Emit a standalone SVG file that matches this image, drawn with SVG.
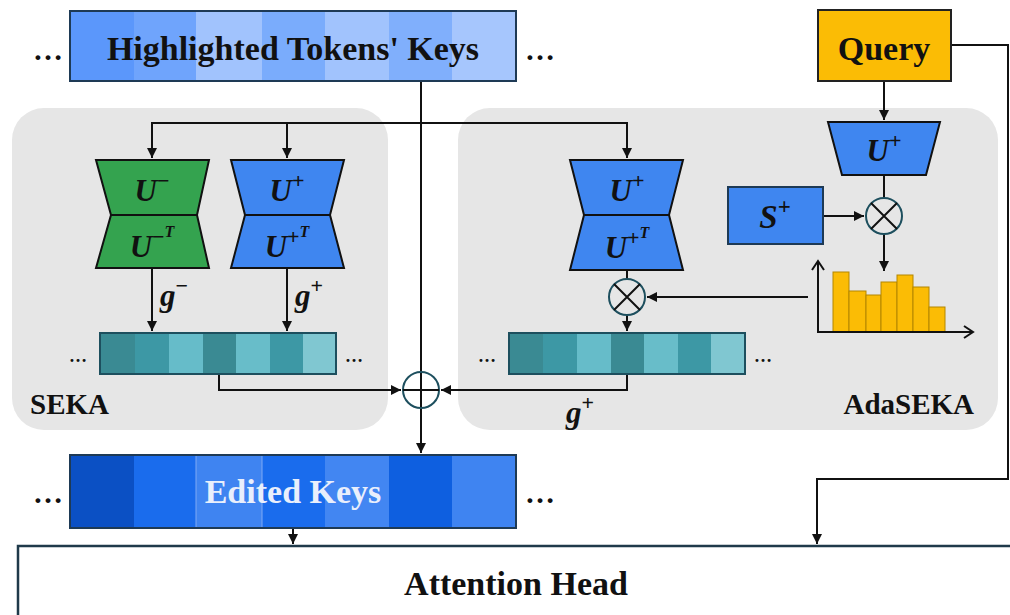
<svg xmlns="http://www.w3.org/2000/svg" width="1010" height="615" viewBox="0 0 1010 615">
<style>
.lbl{font-family:"Liberation Serif","Times New Roman",serif;font-weight:bold;fill:#111}
.math{font-family:"Liberation Serif","Times New Roman",serif;font-weight:bold;font-style:italic;fill:#111}
.sup{font-style:normal}
.wire{fill:none;stroke:#111;stroke-width:2}
.box{stroke:#1e3a55;stroke-width:2}
.panel{fill:#e6e6e6}
.hg{stroke:#111;stroke-width:2;stroke-linejoin:miter}
.ring{fill:none;stroke:#1d4f5e;stroke-width:2}
.dots{font-family:"Liberation Serif",serif;font-weight:bold;fill:#111}
.bar{fill:#fbbc05;stroke:#b38600;stroke-width:1}
</style>
<defs>
<marker id="ah" markerUnits="userSpaceOnUse" markerWidth="10" markerHeight="10" refX="10" refY="5" orient="auto">
<path d="M0,0 L10,5 L0,10 z" fill="#111"/>
</marker>
<marker id="chev" markerUnits="userSpaceOnUse" markerWidth="14" markerHeight="14" refX="11" refY="7" orient="auto">
<path d="M2,1 L11,7 L2,13" fill="none" stroke="#111" stroke-width="2"/>
</marker>
</defs>

<rect width="1010" height="615" fill="#fff"/>

<g id="panel-seka">
<rect class="panel" x="12" y="108" width="376" height="322" rx="32"/>
<text class="lbl" x="30" y="414" font-size="29">SEKA</text>
</g>
<g id="panel-adaseka">
<rect class="panel" x="458" y="108" width="540" height="322" rx="32"/>
<text class="lbl" x="974" y="414" font-size="29" text-anchor="end">AdaSEKA</text>
</g>

<g id="connectors">
<path class="wire" d="M421,81 V453" marker-end="url(#ah)"/>
<path class="wire" d="M421,123 H152 V158" marker-end="url(#ah)"/>
<path class="wire" d="M287,123 V158" marker-end="url(#ah)"/>
<path class="wire" d="M421,123 H627 V158" marker-end="url(#ah)"/>
<path class="wire" d="M152,268 V331" marker-end="url(#ah)"/>
<path class="wire" d="M287,268 V331" marker-end="url(#ah)"/>
<path class="wire" d="M219,374 V390 H401" marker-end="url(#ah)"/>
<path class="wire" d="M627,374 V390 H441" marker-end="url(#ah)"/>
<path class="wire" d="M627,270 V278"/>
<path class="wire" d="M627,315 V331" marker-end="url(#ah)"/>
<path class="wire" d="M808,297 H647" marker-end="url(#ah)"/>
<path class="wire" d="M884,81 V120" marker-end="url(#ah)"/>
<path class="wire" d="M884,175 V197"/>
<path class="wire" d="M823,216 H864" marker-end="url(#ah)"/>
<path class="wire" d="M884,235 V271" marker-end="url(#ah)"/>
<path class="wire" d="M951,45 H1008 V479 H817 V544" marker-end="url(#ah)"/>
<path class="wire" d="M293,528 V544" marker-end="url(#ah)"/>
</g>

<g id="highlighted-keys">
<rect x="70" y="11" width="64" height="70" fill="#5b97fb"/>
<rect x="134" y="11" width="62" height="70" fill="#6fa4fc"/>
<rect x="196" y="11" width="66" height="70" fill="#a1c3fd"/>
<rect x="262" y="11" width="63" height="70" fill="#7aacfc"/>
<rect x="325" y="11" width="64" height="70" fill="#a1c3fd"/>
<rect x="389" y="11" width="63" height="70" fill="#80affc"/>
<rect x="452" y="11" width="64" height="70" fill="#a6c6fd"/>
<rect class="box" x="70" y="11" width="446" height="70" fill="none"/>
<text class="lbl" x="293" y="60" font-size="34" text-anchor="middle">Highlighted Tokens' Keys</text>
<text class="dots" x="48" y="60" font-size="30" text-anchor="middle">…</text>
<text class="dots" x="540" y="60" font-size="30" text-anchor="middle">…</text>
</g>

<g id="query">
<rect x="818" y="10" width="133" height="71" fill="#fbbc05" stroke="#222" stroke-width="2"/>
<text class="lbl" x="884" y="60" font-size="34" text-anchor="middle">Query</text>
</g>

<g id="seka-uminus">
<path class="hg" d="M96,160 H209 L197,215 H111 Z" fill="#34a34f"/>
<path class="hg" d="M111,215 H197 L209,268 H96 Z" fill="#34a34f"/>
<text class="math" x="152" y="201" font-size="31" text-anchor="middle">U<tspan class="sup" dy="-13" font-size="22">−</tspan></text>
<text class="math" x="152" y="257" font-size="31" text-anchor="middle">U<tspan class="sup" dy="-13" font-size="22">−</tspan><tspan dy="-7" font-size="16">T</tspan></text>
</g>

<g id="seka-uplus">
<path class="hg" d="M231,160 H344 L330,215 H245 Z" fill="#3f86f0"/>
<path class="hg" d="M245,215 H330 L344,268 H231 Z" fill="#3f86f0"/>
<text class="math" x="287" y="201" font-size="31" text-anchor="middle">U<tspan class="sup" dy="-13" font-size="22">+</tspan></text>
<text class="math" x="287" y="257" font-size="31" text-anchor="middle">U<tspan class="sup" dy="-13" font-size="22">+</tspan><tspan dy="-7" font-size="16">T</tspan></text>
</g>

<g id="seka-g-labels">
<text class="math" x="160" y="306" font-size="31">g<tspan class="sup" dy="-13" font-size="22">−</tspan></text>
<text class="math" x="295" y="306" font-size="31">g<tspan class="sup" dy="-13" font-size="22">+</tspan></text>
</g>

<g id="seka-strip">
<rect x="100" y="333" width="35" height="41" fill="#3a8a93"/>
<rect x="135" y="333" width="34" height="41" fill="#3d98a5"/>
<rect x="169" y="333" width="34" height="41" fill="#66bcc9"/>
<rect x="203" y="333" width="33" height="41" fill="#3a8a93"/>
<rect x="236" y="333" width="34" height="41" fill="#68bdc9"/>
<rect x="270" y="333" width="33" height="41" fill="#3d98a5"/>
<rect x="303" y="333" width="33" height="41" fill="#80c7d1"/>
<rect x="100" y="333" width="236" height="41" fill="none" stroke="#1d4f5e" stroke-width="2"/>
<text class="dots" x="78" y="362" font-size="18" font-weight="normal" text-anchor="middle">…</text>
<text class="dots" x="354" y="362" font-size="18" font-weight="normal" text-anchor="middle">…</text>
</g>

<g id="oplus">
<circle class="ring" cx="421" cy="390" r="18" fill="none"/>
<path d="M403,390 H439" stroke="#111" stroke-width="2"/>
</g>

<g id="ada-uplus">
<path class="hg" d="M570,160 H683 L669,215 H584 Z" fill="#3f86f0"/>
<path class="hg" d="M584,215 H669 L683,270 H570 Z" fill="#3f86f0"/>
<text class="math" x="627" y="201" font-size="31" text-anchor="middle">U<tspan class="sup" dy="-13" font-size="22">+</tspan></text>
<text class="math" x="627" y="258" font-size="31" text-anchor="middle">U<tspan class="sup" dy="-13" font-size="22">+</tspan><tspan dy="-7" font-size="16">T</tspan></text>
</g>

<g id="ada-otimes">
<circle class="ring" cx="627" cy="297" r="18" fill="#e6e6e6"/>
<path d="M614,284 L640,310 M640,284 L614,310" stroke="#111" stroke-width="2"/>
</g>

<g id="ada-strip">
<rect x="509" y="333" width="34" height="41" fill="#3a8a93"/>
<rect x="543" y="333" width="34" height="41" fill="#3d98a5"/>
<rect x="577" y="333" width="34" height="41" fill="#66bcc9"/>
<rect x="611" y="333" width="33" height="41" fill="#3a8a93"/>
<rect x="644" y="333" width="34" height="41" fill="#68bdc9"/>
<rect x="678" y="333" width="33" height="41" fill="#3d98a5"/>
<rect x="711" y="333" width="34" height="41" fill="#80c7d1"/>
<rect x="509" y="333" width="236" height="41" fill="none" stroke="#1d4f5e" stroke-width="2"/>
<text class="dots" x="487" y="362" font-size="18" font-weight="normal" text-anchor="middle">…</text>
<text class="dots" x="763" y="362" font-size="18" font-weight="normal" text-anchor="middle">…</text>
<text class="math" x="566" y="423" font-size="31">g<tspan class="sup" dy="-13" font-size="22">+</tspan></text>
</g>

<g id="query-uplus">
<path class="hg" d="M828,122 H940 L926,175 H842 Z" fill="#3f86f0"/>
<text class="math" x="884" y="161" font-size="31" text-anchor="middle">U<tspan class="sup" dy="-13" font-size="22">+</tspan></text>
</g>

<g id="splus">
<rect x="728" y="187" width="95" height="57" fill="#3f86f0" stroke="#1e3a55" stroke-width="2"/>
<text class="math" x="775" y="228" font-size="33" text-anchor="middle">S<tspan class="sup" dy="-14" font-size="23">+</tspan></text>
</g>

<g id="otimes2">
<circle class="ring" cx="884" cy="216" r="18" fill="#e6e6e6"/>
<path d="M871,203 L897,229 M897,203 L871,229" stroke="#111" stroke-width="2"/>
</g>

<g id="bar-chart">
<rect class="bar" x="833" y="272" width="16" height="60"/>
<rect class="bar" x="849" y="291" width="17" height="41"/>
<rect class="bar" x="866" y="295" width="15" height="37"/>
<rect class="bar" x="881" y="282" width="16" height="50"/>
<rect class="bar" x="897" y="275" width="16" height="57"/>
<rect class="bar" x="913" y="287" width="16" height="45"/>
<rect class="bar" x="929" y="307" width="16" height="25"/>
<path class="wire" d="M818,332 V261" marker-end="url(#chev)"/>
<path class="wire" d="M817,332 H973" marker-end="url(#chev)"/>
</g>

<g id="edited-keys">
<rect x="70" y="455" width="64" height="73" fill="#0b50c4"/>
<rect x="134" y="455" width="62" height="73" fill="#1a6ced"/>
<rect x="196" y="455" width="66" height="73" fill="#3f84f1"/>
<rect x="262" y="455" width="63" height="73" fill="#1a6ced"/>
<rect x="325" y="455" width="64" height="73" fill="#4286f2"/>
<rect x="389" y="455" width="63" height="73" fill="#0e5fe0"/>
<rect x="452" y="455" width="64" height="73" fill="#3f84f1"/>
<path d="M196,456 V527 M262,456 V527" stroke="#7fa9f5" stroke-width="1"/>
<rect class="box" x="70" y="455" width="446" height="73" fill="none"/>
<text class="lbl" x="293" y="503" font-size="34" text-anchor="middle" style="fill:#e9effc">Edited Keys</text>
<text class="dots" x="48" y="503" font-size="30" text-anchor="middle">…</text>
<text class="dots" x="540" y="503" font-size="30" text-anchor="middle">…</text>
</g>

<g id="attention-head">
<rect x="18" y="546" width="1000" height="80" fill="#fff" stroke="#1f3a4a" stroke-width="2.5"/>
<text class="lbl" x="516" y="595" font-size="34" text-anchor="middle">Attention Head</text>
</g>
</svg>
